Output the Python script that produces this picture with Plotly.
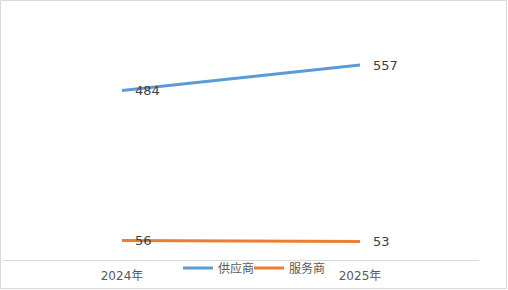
import plotly.graph_objects as go

categories = ["2024年", "2025年"]
supplier = [484, 557]
service = [56, 53]
series_names = ["供应商", "服务商"]

W, H = 508, 290
L, R, T, B = 3, 29, 50, 30
pw, ph = W - L - R, H - T - B

def px_x(x):
    return (x - L) / pw

def px_y(y):
    return (H - B - y) / ph

font_family = "DejaVu Sans, Noto Sans CJK SC, sans-serif"

fig = go.Figure()
for name, vals, color, lg in [(series_names[0], supplier, "#5b9bd5", "legend"),
                              (series_names[1], service, "#ed7d31", "legend2")]:
    fig.add_trace(go.Scatter(
        x=categories, y=vals, name=name, mode="lines",
        line=dict(color=color, width=3), legend=lg,
    ))
    for c, v in zip(categories, vals):
        fig.add_annotation(x=c, y=v, text=str(v), showarrow=False,
                           xanchor="left", yanchor="middle", xshift=11, yshift=0,
                           font=dict(size=13, color="#404040", family=font_family))

legend_common = dict(orientation="h", xanchor="left", yanchor="middle",
                     y=px_y(268), font=dict(size=12, color="#595959"),
                     bgcolor="rgba(0,0,0,0)")

fig.update_layout(
    width=W, height=H,
    margin=dict(l=L, r=R, t=T, b=B),
    paper_bgcolor="white", plot_bgcolor="white",
    font=dict(family=font_family, color="#595959", size=12),
    showlegend=True,
    legend=dict(x=px_x(178), **legend_common),
    legend2=dict(x=px_x(249), **legend_common),
    xaxis=dict(type="category", range=[-0.5, 1.5], showgrid=False,
               showline=True, linecolor="#d9d9d9", linewidth=1, ticks="",
               ticklabelstandoff=5,
               tickfont=dict(size=12, color="#595959")),
    yaxis=dict(range=[0, 600], visible=False, showgrid=False, zeroline=False),
    shapes=[dict(type="rect", xref="paper", yref="paper",
                 x0=px_x(0.5), x1=px_x(W - 1.5), y0=px_y(0.5), y1=px_y(H - 1.5),
                 line=dict(color="#d9d9d9", width=1), layer="below")],
)

fig.write_html("out.html")
